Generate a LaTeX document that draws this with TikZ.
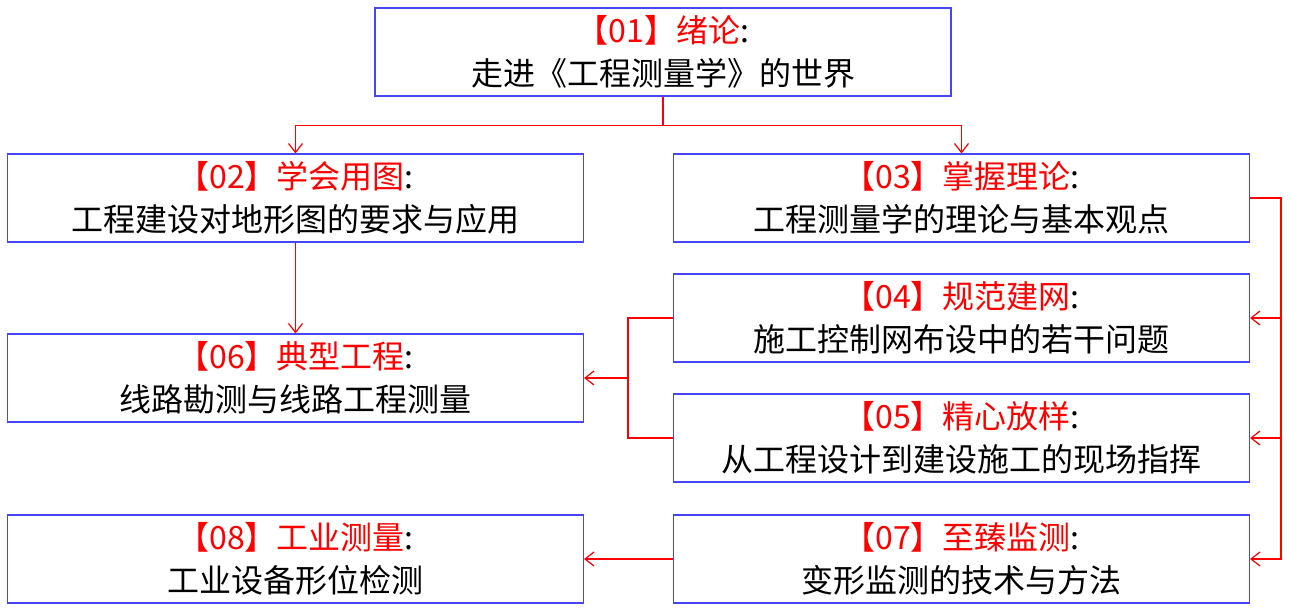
\documentclass[tikz,border=0pt]{standalone}
\usepackage{fontspec}
\setmainfont{Noto Sans CJK SC}
\usepackage{xcolor}
\usetikzlibrary{arrows.meta}

\definecolor{boxblue}{RGB}{70,70,245}
\newcommand{\chaphead}[2]{\textcolor{red}{【#1】#2}:}

\begin{document}
\begin{tikzpicture}[x=1pt,y=-1pt,
  chap/.style={draw=boxblue,line width=1.1pt,minimum width=576pt,minimum height=88pt,
    inner sep=0pt,align=center,font=\fontsize{32}{43}\selectfont},
  link/.style={red,line width=1.2pt},
  linkarrow/.style={link,-{Straight Barb[length=9pt,width=14pt]}}]
\useasboundingbox (0,0) rectangle (1291,608);

\node[chap] (n01) at (663,52)    {\chaphead{01}{绪论}\\走进《工程测量学》的世界};
\node[chap] (n02) at (295.5,198) {\chaphead{02}{学会用图}\\工程建设对地形图的要求与应用};
\node[chap] (n03) at (961.5,198) {\chaphead{03}{掌握理论}\\工程测量学的理论与基本观点};
\node[chap] (n04) at (961.5,318) {\chaphead{04}{规范建网}\\施工控制网布设中的若干问题};
\node[chap] (n05) at (961.5,438) {\chaphead{05}{精心放样}\\从工程设计到建设施工的现场指挥};
\node[chap] (n06) at (295.5,378) {\chaphead{06}{典型工程}\\线路勘测与线路工程测量};
\node[chap] (n07) at (961.5,559) {\chaphead{07}{至臻监测}\\变形监测的技术与方法};
\node[chap] (n08) at (295.5,559) {\chaphead{08}{工业测量}\\工业设备形位检测};

% top split
\draw[linkarrow] (n01.south) -- ++(0,29) -| (n02.north);
\draw[linkarrow] (n01.south) -- ++(0,29) -| (n03.north);
\draw[linkarrow] (n02.south) -- (n06.north);

% right rail
\draw[linkarrow] (n03.east) -- ++(31,0) |- (n04.east);
\draw[linkarrow] (n03.east) -- ++(31,0) |- (n05.east);
\draw[linkarrow] (n03.east) -- ++(31,0) |- (n07.east);

% merge into 06
\coordinate (j) at (628,378);
\draw[link] (n04.west) -| (j) |- (n05.west);
\draw[linkarrow] (j) -- (n06.east);

\draw[linkarrow] (n07.west) -- (n08.east);
\end{tikzpicture}
\end{document}
